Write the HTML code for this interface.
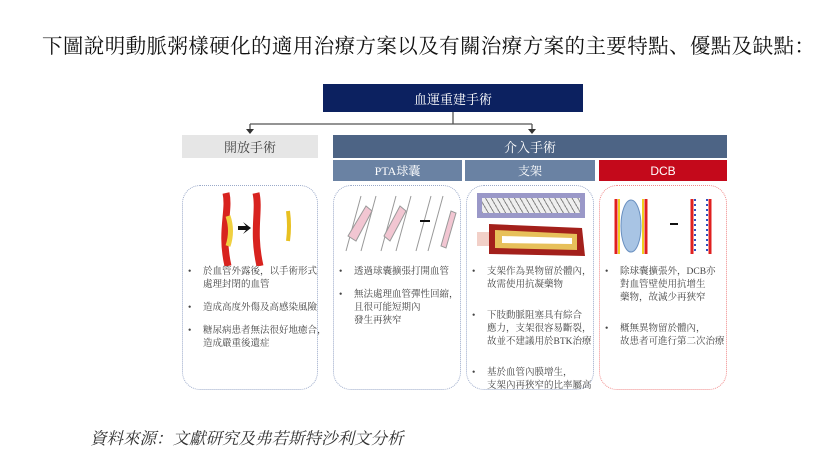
<!DOCTYPE html>
<html><head><meta charset="utf-8"><style>
body{margin:0;width:815px;height:460px;background:#fff;position:relative;overflow:hidden;font-family:"Liberation Serif","Noto Serif CJK SC","Noto Sans CJK TC",serif;}
.a{position:absolute;box-sizing:border-box;}
.bx{display:flex;align-items:center;justify-content:center;font-size:13px;}
.card{border:1px dotted #9aa9c9;border-radius:18px;}
.card ul{list-style:none;margin:0;padding:0;position:absolute;left:0;right:0;}
.card li{position:relative;padding-left:20px;font-size:9.5px;line-height:13px;color:#444;margin-bottom:10px;white-space:nowrap;}
.card li:before{content:"•";position:absolute;left:5px;top:0;}
</style></head><body>
<div class="a" style="left:42px;top:29px;font-size:20.5px;letter-spacing:0.4px;color:#111;white-space:nowrap;font-family:'Liberation Serif','Noto Serif CJK SC',serif;">下圖說明動脈粥樣硬化的適用治療方案以及有關治療方案的主要特點、優點及缺點：</div>

<div class="a bx" style="left:323px;top:84px;width:260px;height:28px;background:#0c2160;color:#fff;">血運重建手術</div>
<svg class="a" style="left:0;top:0" width="815" height="460">
<g stroke="#555" stroke-width="1.3" fill="none"><path d="M453 112V124M250 124H532M250 124V130M532 124V130"/></g>
<path d="M246 129h8l-4 5z M528 129h8l-4 5z" fill="#333"/>
</svg>
<div class="a bx" style="left:182px;top:135px;width:136px;height:23px;background:#e6e6e6;color:#444;">開放手術</div>
<div class="a bx" style="left:333px;top:135px;width:394px;height:23px;background:#4d6485;color:#fff;">介入手術</div>
<div class="a bx" style="left:333px;top:160px;width:129px;height:21px;background:#6a82a3;color:#fff;font-size:12px;">PTA球囊</div>
<div class="a bx" style="left:465px;top:160px;width:130px;height:21px;background:#6a82a3;color:#fff;font-size:12px;">支架</div>
<div class="a bx" style="left:599px;top:160px;width:128px;height:21px;background:#c4091b;color:#fff;font-size:12px;font-family:'Liberation Sans',sans-serif;">DCB</div>

<div class="a card" style="left:182px;top:185px;width:136px;height:205px;">
<svg class="a" style="left:25px;top:5px" width="90" height="75"><path d="M18 2 C22 20,12 40,20 75" stroke="#d8231f" stroke-width="7" fill="none"/><path d="M20 25 q5 15 0 30" stroke="#f0d040" stroke-width="5" fill="none"/><path d="M30 35h8l-3-4 8 6-8 6 3-4h-8z" fill="#111"/><path d="M48 2 C52 20,44 40,52 75" stroke="#d8231f" stroke-width="7" fill="none"/><path d="M80 20 q2 15 0 30" stroke="#e8c020" stroke-width="4" fill="none"/></svg>
<ul style="top:80px;"><li>於血管外露後，以手術形式<br>處理封閉的血管</li><li>造成高度外傷及高感染風險</li><li>糖尿病患者無法很好地癒合，<br>造成嚴重後遺症</li></ul></div>

<div class="a card" style="left:333px;top:185px;width:128px;height:205px;">
<svg class="a" style="left:2px;top:5px" width="124" height="65"><g stroke="#999" fill="#f2c6d2"><path d="M10 60L25 5M25 60L40 5" fill="none"/><path d="M12 45L30 15 36 20 20 50z"/><path d="M45 60L60 5M60 60L75 5" fill="none"/><path d="M48 45L64 15 70 20 54 50z"/><path d="M80 60L95 5M92 60L107 5" fill="none"/><path d="M105 55L115 20 120 22 110 57z"/></g><path d="M84 30h10" stroke="#111" stroke-width="2"/></svg>
<ul style="top:80px;"><li>透過球囊擴張打開血管</li><li>無法處理血管彈性回縮，<br>且很可能短期內<br>發生再狹窄</li></ul></div>

<div class="a card" style="left:466px;top:185px;width:128px;height:205px;">
<div class="a" style="left:10px;top:7px;width:108px;height:25px;background:#9a98c8;"><div class="a" style="left:5px;top:5px;width:98px;height:15px;background:repeating-linear-gradient(60deg,#888 0 1px,#eee 1px 5px);"></div></div>
<svg class="a" style="left:10px;top:36px" width="110" height="36"><path d="M0 10h15v14H0z" fill="#f2d0c8"/><path d="M12 2L105 6 108 34 12 32z" fill="#a3201b"/><path d="M18 8L100 12 100 28 18 26z" fill="#e7c05a"/><path d="M25 14L95 16 95 22 25 21z" fill="#fff"/></svg>
<ul style="top:80px;"><li style="margin-bottom:18px">支架作為異物留於體內，<br>故需使用抗凝藥物</li><li style="margin-bottom:18px">下肢動脈阻塞具有綜合<br>應力，支架很容易斷裂，<br>故並不建議用於BTK治療</li><li>基於血管內膜增生，<br>支架內再狹窄的比率屬高</li></ul></div>

<div class="a card" style="left:599px;top:185px;width:128px;height:205px;border-color:#f08a8a;">
<svg class="a" style="left:10px;top:8px" width="110" height="65"><path d="M6 5v55M36 5v55" stroke="#e02020" stroke-width="3"/><path d="M9 5v55M33 5v55" stroke="#f0d020" stroke-width="2"/><ellipse cx="21" cy="32" rx="10" ry="26" fill="#a8c4e4" stroke="#6a90c0"/><path d="M60 30h8" stroke="#111" stroke-width="2"/><path d="M82 5v55M100 5v55" stroke="#e02020" stroke-width="3"/><path d="M85 5v55M97 5v55" stroke="#3050c0" stroke-width="2" stroke-dasharray="2 3"/></svg>
<ul style="top:80px;"><li style="margin-bottom:18px">除球囊擴張外，DCB亦<br>對血管壁使用抗增生<br>藥物，故減少再狹窄</li><li>概無異物留於體內，<br>故患者可進行第二次治療</li></ul></div>

<div class="a" style="left:90px;top:425px;font-size:16.5px;font-style:italic;color:#333;white-space:nowrap;">資料來源：文獻研究及弗若斯特沙利文分析</div>
</body></html>
